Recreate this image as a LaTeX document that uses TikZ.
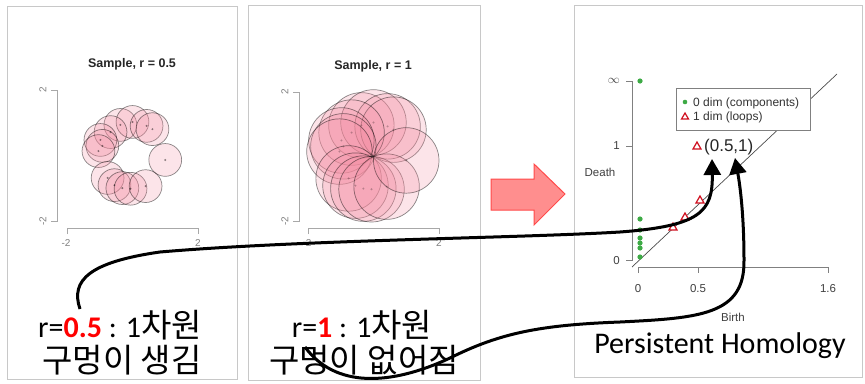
\documentclass[tikz,border=0pt]{standalone}
\usepackage{fontspec}
\setmainfont{Carlito}
\newfontfamily\plotfont{Liberation Sans}
\newfontfamily\kr[Scale=1.1]{Noto Sans CJK KR}
\usetikzlibrary{arrows.meta}
\definecolor{pinkfill}{HTML}{F4889E}
\definecolor{panelgray}{HTML}{C8C8C8}
\definecolor{axisgray}{HTML}{A8A8A8}
\definecolor{ptgreen}{HTML}{3DAA45}
\definecolor{ptred}{HTML}{D01020}
\definecolor{arrowfill}{HTML}{FF8E8E}
\definecolor{arrowdraw}{HTML}{FF4A4A}
\def\pts{-0.37/0.95, 0/1.04, 0.43/0.92, 0.61/0.82, -0.67/0.73, -0.98/0.49, -0.92/0.31, -1.04/0.15, -0.76/-0.67, -0.55/-0.89, -0.31/-0.98, -0.06/-1.0, 0.40/-0.92, 1.0/-0.12}
\begin{document}
\begin{tikzpicture}[x=1pt,y=-1pt,
  panel/.style={draw=panelgray, line width=1pt},
  plotaxis/.style={draw=axisgray, line width=0.8pt},
  ticklbl/.style={font=\plotfont\fontsize{10}{12}\selectfont, text=gray, inner sep=1pt},
  ticklbltwo/.style={font=\plotfont\fontsize{11.5}{13}\selectfont, text=black!75, inner sep=1pt},
  plottitle/.style={font=\plotfont\bfseries\fontsize{12.5}{14}\selectfont, text=black!85},
  disk/.style={fill=pinkfill, fill opacity=0.22, draw=black, draw opacity=0.45, line width=0.7pt},
  bigtext/.style={font=\fontsize{30}{36}\selectfont, inner sep=0pt},
  curve/.style={line width=3pt, -{Triangle[length=16pt,width=17pt]}},
  greendot/.style={fill=ptgreen},
  redtri/.style={draw=ptred, line width=1.2pt, fill=white}
]
\useasboundingbox (0,0) rectangle (865,383);
\fill[white] (0,0) rectangle (865,383);

% panels
\draw[panel] (7,6) rectangle (237,379);
\draw[panel] (248,5) rectangle (480,380);
\draw[panel] (574,5) rectangle (862,377);

% ---------- panel 1 ----------
\node[plottitle] (t1) at (132,64) {Sample, r = 0.5};
\draw[plotaxis] (51,90) -- (57,90) -- (57,221) -- (51,221);
\draw[plotaxis] (67,234) -- (67,228) -- (198,228) -- (198,234);
\node[ticklbl, rotate=90] (p1y2) at (43,90) {2};
\node[ticklbl, rotate=90] (p1ym) at (43,221) {-2};
\node[ticklbl] (p1xm) at (66,243) {-2};
\node[ticklbl] (p1x2) at (198,243) {2};
\foreach \a/\b in \pts {
  \draw[disk] ({132.5+32.75*\a},{156-32.75*\b}) circle[radius=16.4pt];
}
\foreach \a/\b in \pts {
  \fill[black, opacity=0.45] ({132.5+32.75*\a},{156-32.75*\b}) circle[radius=1.1pt];
}

% ---------- panel 2 ----------
\node[plottitle] (t2) at (373,66) {Sample, r = 1};
\draw[plotaxis] (293,92) -- (299,92) -- (299,221) -- (293,221);
\draw[plotaxis] (308,234) -- (308,228) -- (439,228) -- (439,234);
\node[ticklbl, rotate=90] (p2y2) at (285,92) {2};
\node[ticklbl, rotate=90] (p2ym) at (285,221) {-2};
\node[ticklbl] (p2xm) at (307,243) {-2};
\node[ticklbl] (p2x2) at (439,243) {2};
\foreach \a/\b in \pts {
  \draw[disk] ({373.5+32.75*\a},{156.5-32.75*\b}) circle[radius=32.75pt];
}
\foreach \a/\b in \pts {
  \fill[black, opacity=0.25] ({373.5+32.75*\a},{156.5-32.75*\b}) circle[radius=1.1pt];
}

% ---------- big red arrow ----------
\draw[fill=arrowfill, draw=arrowdraw, line width=1pt, line join=miter]
  (491,179) -- (534,179) -- (534,164) -- (565,194) -- (534,225) -- (534,210) -- (491,210) -- cycle;

% ---------- panel 3 ----------
\draw[plotaxis, draw=gray] (626,81) -- (632,81) -- (632,260) -- (626,260);
\draw[plotaxis, draw=gray] (626,146) -- (632,146);
\draw[plotaxis, draw=gray] (638,273) -- (638,267) -- (828,267) -- (828,273);
\draw[plotaxis, draw=gray] (698,267) -- (698,273);
\node[ticklbltwo, anchor=east] (yinf) at (621,81) {$\infty$};
\node[ticklbltwo, anchor=east] (y1) at (621,146) {1};
\node[ticklbltwo, anchor=east] (y0) at (621,261) {0};
\node[ticklbltwo] (x0) at (638,289) {0};
\node[ticklbltwo] (x05) at (698,289) {0.5};
\node[ticklbltwo] (x16) at (828,289) {1.6};
\node[ticklbltwo] (death) at (600,172) {Death};
\node[ticklbltwo] (birth) at (733,317) {Birth};
\draw[black!70, line width=0.7pt] (632,267) -- (837,74);
\foreach \yy in {81,219,230,238,243,248,257} {
  \fill[greendot] (640,\yy) circle[radius=2.6pt];
}
\foreach \xx/\yy in {673/227, 685/217, 700/200, 697/146} {
  \draw[redtri] (\xx,\yy-4) -- (\xx+4,\yy+3) -- (\xx-4,\yy+3) -- cycle;
}
\draw[draw=gray, line width=0.8pt, fill=white] (676,88) rectangle (810,130);
\fill[greendot] (685,102) circle[radius=2.3pt];
\draw[redtri] (685,113) -- (688.5,119) -- (681.5,119) -- cycle;
\node[font=\plotfont\fontsize{12}{14}\selectfont, anchor=west, inner sep=0pt, text=black!80] (leg0) at (693,103) {0 dim (components)};
\node[font=\plotfont\fontsize{12}{14}\selectfont, anchor=west, inner sep=0pt, text=black!80] (leg1) at (693,117) {1 dim (loops)};
\node[font=\plotfont\fontsize{17}{20}\selectfont, anchor=west, inner sep=0pt, text=black!85] (pt) at (704,147) {(0.5,1)};

% ---------- bottom texts ----------
\node[bigtext, anchor=base] (l1a) at (120,337) {r=\textcolor{red}{\bfseries 0.5} : 1{\kr 차원}};
\node[bigtext, anchor=base] (l1b) at (122,372) {\kr 구멍이 생김};
\node[bigtext, anchor=base] (l2a) at (362,337) {r=\textcolor{red}{\bfseries 1} : 1{\kr 차원}};
\node[bigtext, anchor=base] (l2b) at (364,372) {\kr 구멍이 없어짐};
\node[bigtext, anchor=base] (ph) at (720,353) {Persistent Homology};

% ---------- curved arrows ----------
\coordinate (s1) at (80,309);
\coordinate (e1) at (712,159);
\coordinate (s2) at (305,347);
\coordinate (e2) at (735,158);
\draw[curve] (s1) .. controls (70,280) and (90,262) .. (160,252)
  .. controls (300,240) and (520,238) .. (620,232)
  .. controls (700,226) and (713,212) .. (e1);
\draw[curve] (s2) .. controls (335,388) and (390,386) .. (450,358)
  .. controls (500,333) and (540,325) .. (620,322)
  .. controls (700,318) and (745,315) .. (744,260)
  .. controls (744,215) and (740,185) .. (e2);
\end{tikzpicture}
\end{document}
